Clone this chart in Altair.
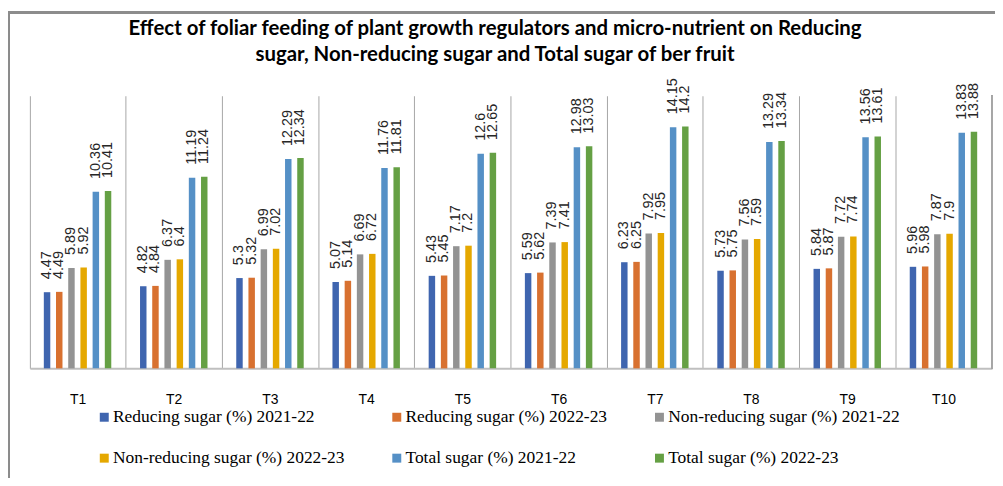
import altair as alt
import pandas as pd

groups = ["T1", "T2", "T3", "T4", "T5", "T6", "T7", "T8", "T9", "T10"]
series = [
    "Reducing sugar (%) 2021-22",
    "Reducing sugar (%) 2022-23",
    "Non-reducing sugar (%) 2021-22",
    "Non-reducing sugar (%) 2022-23",
    "Total sugar (%) 2021-22",
    "Total sugar (%) 2022-23",
]
reducing_2122 = [4.47, 4.82, 5.3, 5.07, 5.43, 5.59, 6.23, 5.73, 5.84, 5.96]
reducing_2223 = [4.49, 4.84, 5.32, 5.14, 5.45, 5.62, 6.25, 5.75, 5.87, 5.98]
nonreducing_2122 = [5.89, 6.37, 6.99, 6.69, 7.17, 7.39, 7.92, 7.56, 7.72, 7.87]
nonreducing_2223 = [5.92, 6.4, 7.02, 6.72, 7.2, 7.41, 7.95, 7.59, 7.74, 7.9]
total_2122 = [10.36, 11.19, 12.29, 11.76, 12.6, 12.98, 14.15, 13.29, 13.56, 13.83]
total_2223 = [10.41, 11.24, 12.34, 11.81, 12.65, 13.03, 14.2, 13.34, 13.61, 13.88]
colors = ["#3F65AF", "#D87130", "#939393", "#E5A800", "#5590C6", "#65A044"]

title_lines = [
    "Effect of foliar feeding of plant growth regulators and micro-nutrient on Reducing",
    "sugar, Non-reducing sugar and Total sugar of ber fruit",
]

all_values = [reducing_2122, reducing_2223, nonreducing_2122,
              nonreducing_2223, total_2122, total_2223]
rows = []
for s, vals in zip(series, all_values):
    for g, v in zip(groups, vals):
        rows.append({"group": g, "series": s, "value": v, "label": f"{v:g}"})
df = pd.DataFrame(rows)

# legend fills column by column: reorder so it reads row by row (3 columns)
legend_order = [0, 3, 1, 4, 2, 5]
legend_domain = [series[i] for i in legend_order]
legend_range = [colors[i] for i in legend_order]

W, H = 967, 274
SERIF = "Liberation Serif, Times New Roman, serif"
SANS = "Liberation Sans, Arial, sans-serif"
TITLE_FONT = "Lato, Liberation Sans, sans-serif"

x_enc = alt.X(
    "group:N", sort=groups, title=None,
    scale=alt.Scale(paddingInner=0, paddingOuter=0),
    axis=alt.Axis(
        grid=True, bandPosition=0, gridColor="#A6A6A6", gridWidth=1,
        ticks=False, tickSize=0, labelAngle=0, labelPadding=24,
        labelFont=SANS, labelFontSize=14, labelColor="#000000",
        domainColor="#BFBFBF", domainWidth=2,
    ),
)
xoff_enc = alt.XOffset("series:N", sort=series,
                       scale=alt.Scale(range=[14, 81.8], paddingInner=0.47,
                                       paddingOuter=0))
y_enc = alt.Y("value:Q", scale=alt.Scale(domain=[0, 16]), axis=None)

base = alt.Chart(df)

bars = base.mark_bar().encode(
    x=x_enc,
    xOffset=xoff_enc,
    y=y_enc,
    color=alt.Color(
        "series:N", sort=legend_domain,
        scale=alt.Scale(domain=legend_domain, range=legend_range),
        legend=alt.Legend(
            title=None, orient="none", legendX=66, legendY=314,
            columns=3, columnPadding=43, rowPadding=22.5,
            symbolType="square", symbolSize=81, symbolStrokeWidth=0,
            labelFont=SERIF, labelFontSize=17.5,
            labelColor="#000000", labelLimit=400, labelOffset=0,
        ),
    ),
)

labels = base.mark_text(
    angle=270, align="left", baseline="middle", dx=13,
    font=SANS, fontSize=14.5, color="#262626",
).encode(
    x=x_enc,
    xOffset=xoff_enc,
    y=y_enc,
    text="label:N",
)

right_sep = base.mark_rule(color="#A6A6A6", strokeWidth=1).encode(
    x=alt.value(W), y=alt.value(0), y2=alt.value(H)
)

border = base.mark_rect(filled=False, stroke="#8C8C8C", strokeWidth=2).encode(
    x=alt.value(-21), x2=alt.value(W + 30), y=alt.value(-84), y2=alt.value(H + 140)
)

chart = alt.layer(border, bars, labels, right_sep).properties(
    width=W, height=H,
    autosize=alt.AutoSizeParams(type="none"),
    padding={"left": 22, "top": 87, "right": 3, "bottom": 109},
    title=alt.TitleParams(
        text=title_lines, font=TITLE_FONT, fontSize=20.5,
        fontWeight="bold", color="#000000", anchor="middle",
        dx=-16, lineHeight=27, offset=-55,
    ),
).configure_view(stroke=None).configure_legend(labelFont=SERIF)

chart.save("out.html", embed_options={"renderer": "svg", "actions": False})
